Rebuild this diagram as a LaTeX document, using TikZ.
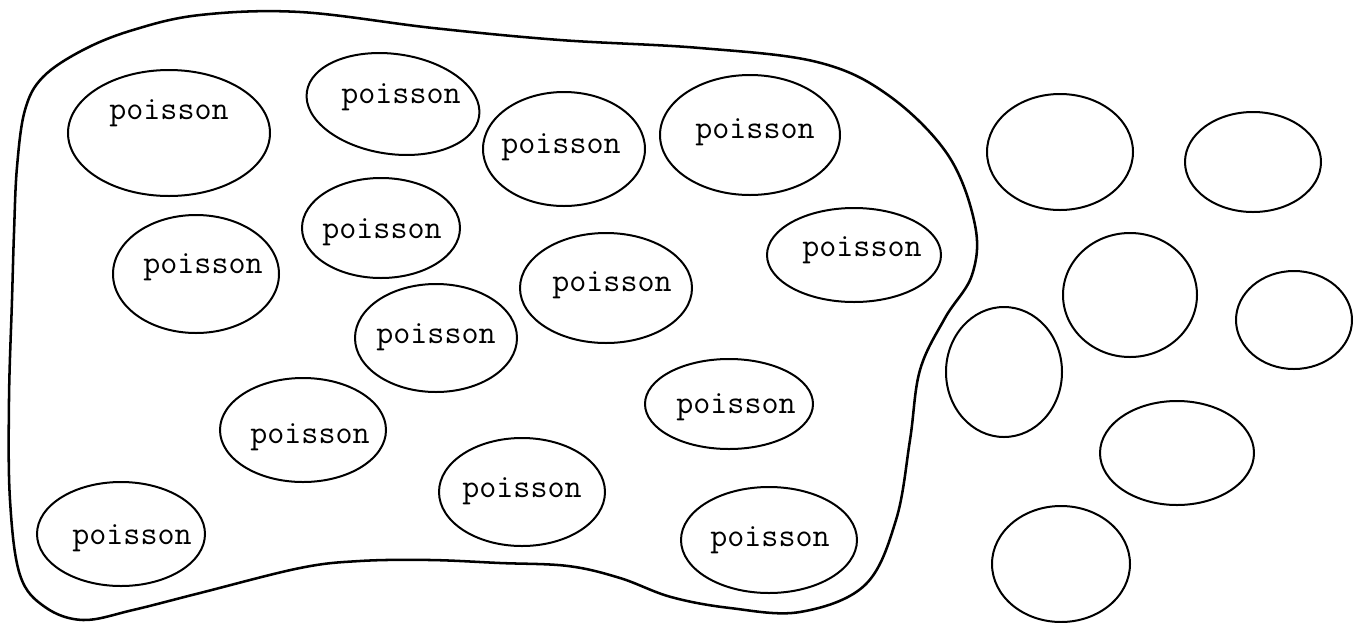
\documentclass[tikz,border=0pt]{standalone}
\usepackage{fontspec}
\begin{document}
\begin{tikzpicture}[x=0.75pt,y=-0.75pt,
  outline/.style={line width=1.9pt,line join=round},
  fish/.style={line width=1.5pt},
  txt/.style={font=\ttfamily\fontsize{24.8}{28}\selectfont,inner sep=0pt}]
\useasboundingbox (0,0) rectangle (1354,622);
% large enclosing outline
\draw[outline] plot[smooth cycle,tension=0.6] coordinates {
 (12,300) (14,233) (17,167) (25,110) (43,77) (83,50) (133,30) (200,15) (300,12)
 (433,28) (560,40) (700,48) (817,62) (888,95) (948,155) (975,225) (972,275)
 (945,318) (920,370) (910,440) (896,520) (865,585)
 (800,612) (730,608) (671,597) (620,578) (568,566) (500,563) (430,560) (360,561)
 (300,568) (200,593) (133,610) (83,620) (45,607) (20,575) (10,500) (9,400)};
% fish inside
\draw[fish] (169,133) ellipse [x radius=101, y radius=63];
\draw[fish,rotate around={-8:(393,104)}] (393,104) ellipse [x radius=87, y radius=50];
\draw[fish] (564,149) ellipse [x radius=81, y radius=57];
\draw[fish] (750,135) ellipse [x radius=90, y radius=60];
\draw[fish] (196,274) ellipse [x radius=83, y radius=59];
\draw[fish] (381,228) ellipse [x radius=79, y radius=50];
\draw[fish] (606,288) ellipse [x radius=86, y radius=55];
\draw[fish] (854,255) ellipse [x radius=87, y radius=47];
\draw[fish] (436,338) ellipse [x radius=81, y radius=54];
\draw[fish] (303,430) ellipse [x radius=83, y radius=52];
\draw[fish] (729,404) ellipse [x radius=84, y radius=45];
\draw[fish] (522,492) ellipse [x radius=83, y radius=54];
\draw[fish] (121,534) ellipse [x radius=84, y radius=52];
\draw[fish] (769,540) ellipse [x radius=88, y radius=53];
% labels
\node[txt] (t1) at (169,113) {poisson};
\node[txt] (t2) at (401,97) {poisson};
\node[txt] (t3) at (561,147) {poisson};
\node[txt] (t4) at (755,132) {poisson};
\node[txt] (t5) at (203,267) {poisson};
\node[txt] (t6) at (382,232) {poisson};
\node[txt] (t7) at (612,285) {poisson};
\node[txt] (t8) at (862,250) {poisson};
\node[txt] (t9) at (436,337) {poisson};
\node[txt] (t10) at (310,437) {poisson};
\node[txt] (t11) at (736,407) {poisson};
\node[txt] (t12) at (522,491) {poisson};
\node[txt] (t13) at (132,538) {poisson};
\node[txt] (t14) at (770,540) {poisson};
% fish outside
\draw[fish] (1060,152) ellipse [x radius=73, y radius=58];
\draw[fish] (1253,162) ellipse [x radius=68, y radius=50];
\draw[fish] (1130,295) ellipse [x radius=67, y radius=62];
\draw[fish] (1294,320) ellipse [x radius=58, y radius=49];
\draw[fish] (1004,372) ellipse [x radius=58, y radius=65];
\draw[fish] (1177,453) ellipse [x radius=77, y radius=52];
\draw[fish] (1061,564) ellipse [x radius=69, y radius=58];
\end{tikzpicture}
\end{document}
